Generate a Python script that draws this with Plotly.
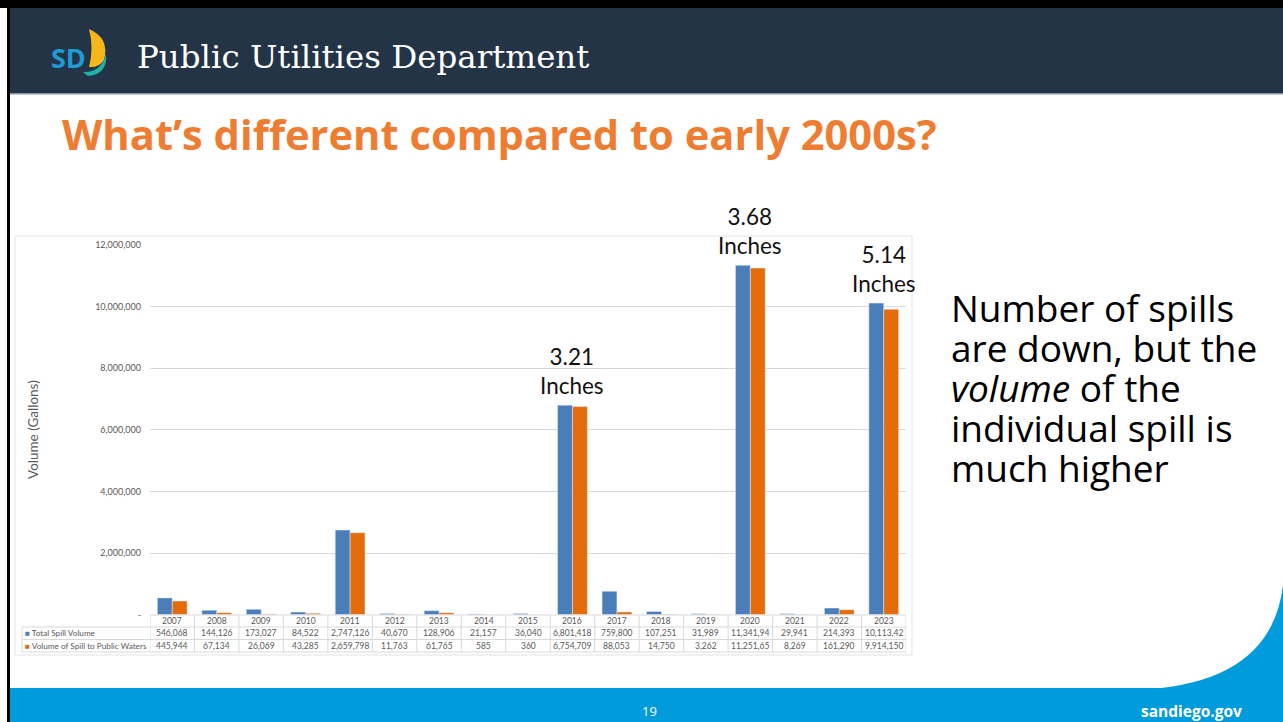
import plotly.graph_objects as go

W, H = 1283, 722

years = ["2007", "2008", "2009", "2010", "2011", "2012", "2013", "2014", "2015",
         "2016", "2017", "2018", "2019", "2020", "2021", "2022", "2023"]
total_spill = [546068, 144126, 173027, 84522, 2747126, 40670, 128906, 21157, 36040,
               6801418, 759800, 107251, 31989, 11341940, 29941, 214393, 10113420]
public_waters = [445944, 67134, 26069, 43285, 2659798, 11763, 61765, 585, 360,
                 6754709, 88053, 14750, 3262, 11251650, 8269, 161290, 9914150]
# table cells as printed on the slide (two cells are cut off)
total_labels = ["546,068", "144,126", "173,027", "84,522", "2,747,126", "40,670", "128,906",
                "21,157", "36,040", "6,801,418", "759,800", "107,251", "31,989", "11,341,94",
                "29,941", "214,393", "10,113,42"]
public_labels = ["445,944", "67,134", "26,069", "43,285", "2,659,798", "11,763", "61,765",
                 "585", "360", "6,754,709", "88,053", "14,750", "3,262", "11,251,65",
                 "8,269", "161,290", "9,914,150"]
rain_years = ["2016", "2020", "2023"]
rain_labels = ["3.21<br>Inches", "3.68<br>Inches", "5.14<br>Inches"]
y_ticks = [0, 2000000, 4000000, 6000000, 8000000, 10000000, 12000000]
y_ticktext = ["-", "2,000,000", "4,000,000", "6,000,000", "8,000,000", "10,000,000", "12,000,000"]
side_lines = ["Number of spills", "are down, but the", "<i>volume</i> of the",
              "individual spill is", "much higher"]

BLUE = "#4A7EBB"
ORANGE = "#E46C0A"
NAVY = "#243447"
TITLE_ORANGE = "#EF7D31"
FOOT_BLUE = "#009BDB"
GREY_TXT = "#595959"
GRID = "#D9D9D9"


def px(x):
    return x / W


def py(y):
    return 1 - y / H


fig = go.Figure()
fig.add_trace(go.Bar(x=years, y=total_spill, name="Total Spill Volume", marker_color=BLUE))
fig.add_trace(go.Bar(x=years, y=public_waters, name="Volume of Spill to Public Waters",
                     marker_color=ORANGE))

shapes = []
annotations = []

# slide frame: header, black border, footer with curve
shapes.append(dict(type="rect", xref="paper", yref="paper", x0=0, x1=1, y0=py(8), y1=1,
                   fillcolor="#000000", line_width=0, layer="below"))
shapes.append(dict(type="rect", xref="paper", yref="paper", x0=px(7), x1=1, y0=py(93), y1=py(8),
                   fillcolor=NAVY, line_width=0, layer="below"))
shapes.append(dict(type="rect", xref="paper", yref="paper", x0=px(10), x1=1, y0=py(94.5), y1=py(93),
                   fillcolor="#8a94a3", line_width=0, layer="below"))
shapes.append(dict(type="rect", xref="paper", yref="paper", x0=px(7), x1=px(10), y0=0, y1=1,
                   fillcolor="#000000", line_width=0, layer="below"))
shapes.append(dict(type="rect", xref="paper", yref="paper", x0=px(10), x1=1, y0=0, y1=py(688),
                   fillcolor=FOOT_BLUE, line_width=0, layer="below"))
curve = (f"M {px(1150)},{py(689)} Q {px(1272)},{py(680)} {px(1283)},{py(585)} "
         f"L {px(1283)},{py(689)} Z")
shapes.append(dict(type="path", xref="paper", yref="paper", path=curve,
                   fillcolor=FOOT_BLUE, line_width=0, layer="below"))

# logo sails
sail_y = (f"M {px(89)},{py(29)} Q {px(110)},{py(38)} {px(104)},{py(60)} "
          f"Q {px(99)},{py(68)} {px(89)},{py(67)} Q {px(94)},{py(48)} {px(89)},{py(29)} Z")
sail_t = (f"M {px(83)},{py(72)} Q {px(101)},{py(73)} {px(106)},{py(54)} "
          f"Q {px(108)},{py(74)} {px(88)},{py(76)} Z")
shapes.append(dict(type="path", xref="paper", yref="paper", path=sail_y,
                   fillcolor="#F6B71A", line_width=0))
shapes.append(dict(type="path", xref="paper", yref="paper", path=sail_t,
                   fillcolor="#1DB3A8", line_width=0))

# chart picture frame
shapes.append(dict(type="rect", xref="paper", yref="paper", x0=px(15), x1=px(912),
                   y0=py(655), y1=py(236), line=dict(color="#E3E3E3", width=1)))

# data table grid
row_y = [615, 627, 639.5, 652]
for i in range(len(years) + 1):
    shapes.append(dict(type="line", xref="x", yref="paper", x0=i - 0.5, x1=i - 0.5,
                       y0=py(row_y[0]), y1=py(row_y[-1]), line=dict(color=GRID, width=1)))
for k, ry in enumerate(row_y):
    shapes.append(dict(type="line", xref="paper", yref="paper",
                       x0=px(150) if k == 0 else px(22), x1=px(906),
                       y0=py(ry), y1=py(ry), line=dict(color=GRID, width=1)))
shapes.append(dict(type="line", xref="paper", yref="paper", x0=px(22), x1=px(22),
                   y0=py(627), y1=py(652), line=dict(color=GRID, width=1)))

# table cells: x given as category index so "2016" is not read as a position
tfont = dict(family="Lato, Liberation Sans, sans-serif", size=8.5, color=GREY_TXT)
for i, (yr, t, p) in enumerate(zip(years, total_labels, public_labels)):
    for yy, txt in ((621, yr), (633, t), (645.5, p)):
        annotations.append(dict(x=i, xref="x", y=py(yy), yref="paper", text=txt,
                                showarrow=False, font=tfont, xanchor="center",
                                yanchor="middle"))
lfont = dict(tfont, size=8.2)
annotations.append(dict(x=px(23), xref="paper", y=py(633), yref="paper", xanchor="left",
                        text=f"<span style='color:{BLUE}'>■</span> Total Spill Volume",
                        showarrow=False, font=lfont, yanchor="middle"))
annotations.append(dict(x=px(23), xref="paper", y=py(645.5), yref="paper", xanchor="left",
                        text=f"<span style='color:{ORANGE}'>■</span> Volume of Spill to Public Waters",
                        showarrow=False, font=lfont, yanchor="middle"))

# rainfall callouts above the big years
for yr, lab in zip(rain_years, rain_labels):
    idx = years.index(yr)
    annotations.append(dict(x=idx, xref="x", y=total_spill[idx], yref="y", text=lab,
                            showarrow=False, xanchor="center", yanchor="bottom", yshift=4,
                            font=dict(family="Lato, sans-serif", size=22.5, color="#111111")))

# slide texts
slide_texts = [
    dict(x=px(49), y=py(57), xanchor="left", text="<b>SD</b>",
         font=dict(family="Open Sans, sans-serif", size=27, color="#1E9BD7")),
    dict(x=px(135), y=py(57), xanchor="left", text="Public Utilities Department",
         font=dict(family="DejaVu Serif, serif", size=32.5, color="#FFFFFF")),
    dict(x=px(60), y=py(133), xanchor="left",
         text="<b>What’s different compared to early 2000s?</b>",
         font=dict(family="Open Sans, sans-serif", size=41.7, color=TITLE_ORANGE)),
    dict(x=px(649), y=py(711), xanchor="center", text="19",
         font=dict(family="Open Sans, sans-serif", size=13, color="#FFFFFF")),
    dict(x=px(1244), y=py(711), xanchor="right", text="<b>sandiego.gov</b>",
         font=dict(family="Open Sans, sans-serif", size=15.5, color="#FFFFFF")),
    dict(x=px(33), y=py(430), xanchor="center", textangle=-90, text="Volume (Gallons)",
         font=dict(family="Lato, sans-serif", size=13.5, color=GREY_TXT)),
]
for k, line in enumerate(side_lines):
    slide_texts.append(dict(x=px(949), y=py(307 + 40 * k), xanchor="left", text=line,
                            font=dict(family="Open Sans, sans-serif", size=37, color="#000000")))
for a in slide_texts:
    annotations.append(dict(xref="paper", yref="paper", yanchor="middle", showarrow=False, **a))

fig.update_layout(
    width=W, height=H,
    margin=dict(l=0, r=0, t=0, b=0, pad=0, autoexpand=False),
    paper_bgcolor="white", plot_bgcolor="white",
    showlegend=False,
    barmode="group", bargap=0.33, bargroupgap=0,
    xaxis=dict(type="category", domain=[px(150), px(906)], range=[-0.5, len(years) - 0.5],
               showticklabels=False, ticks="", showgrid=False, zeroline=False,
               showline=False, fixedrange=True, automargin=False),
    yaxis=dict(domain=[py(614.7), py(245)], range=[0, 12000000], tickvals=y_ticks,
               ticktext=y_ticktext, gridcolor=GRID, zeroline=False, showline=False,
               ticks="", ticklabelstandoff=8, automargin=False,
               tickfont=dict(family="Lato, sans-serif", size=9, color=GREY_TXT)),
    shapes=shapes,
    annotations=annotations,
)

# pin the plot to the top-left corner of the page so nothing offsets it
pin = ("document.body.style.margin='0';document.body.style.overflow='hidden';"
       "var gd=document.getElementById('{plot_id}');gd.style.position='fixed';"
       "gd.style.top='0px';gd.style.left='0px';")
fig.write_html("out.html", config={"displayModeBar": False}, post_script=pin)
